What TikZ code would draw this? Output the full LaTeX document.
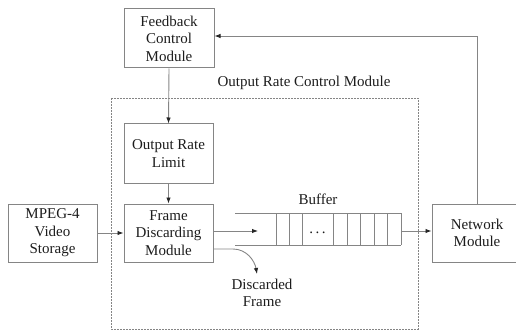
\documentclass[tikz,border=0pt]{standalone}
\usepackage{fontspec}
\setmainfont{Liberation Serif}
\usetikzlibrary{arrows.meta}
\definecolor{linegray}{HTML}{858585}
\definecolor{textgray}{HTML}{1C1C1C}
\begin{document}
\begin{tikzpicture}[x=1pt,y=-1pt,
  font=\fontsize{15}{17.5}\selectfont,
  every node/.style={text=textgray},
  block/.style={draw=linegray, line width=1pt, rectangle, align=center,
    inner sep=0pt, minimum height=58pt},
  conn/.style={draw=linegray, line width=0.9pt,
    -{Latex[length=6pt,width=4.5pt,fill=black!85,color=black!85]}},
  cell/.style={draw=linegray, line width=0.9pt}]
\useasboundingbox (0,0) rectangle (516,331);

% processing blocks
\node[block, minimum width=90pt, minimum height=59pt] (fb) at (169,38.5) {Feedback\\Control\\Module};
\node[block, minimum width=89pt, minimum height=59pt] (orl) at (168.5,153.5) {Output Rate\\Limit};
\node[block, minimum width=89pt] (fdm) at (168.5,233) {Frame\\Discarding\\Module};
\node[block, minimum width=89pt] (mpeg) at (52.5,233) {MPEG-4\\Video\\Storage};
\node[block, minimum width=90pt] (net) at (477,233) {Network\\Module};

% rate control enclosure
\draw[linegray, line width=0.9pt, dash pattern=on 1.6pt off 1.4pt] (111,98) rectangle (418,329);
\node (title) at (304,83) {Output Rate Control Module};

% buffer queue
\draw[cell] (235,213) -- (401,213) (235,245) -- (401,245);
\foreach \cx in {276,289,302,333,347,360,374,387,401}
  \draw[cell] (\cx,213) -- (\cx,245);
\node[anchor=base, inner sep=0pt] (dots) at (317.5,233) {.\hspace{2.5pt}.\hspace{2.5pt}.};
\node (buflabel) at (318,199) {Buffer};
\coordinate (bufin) at (258,231);
\coordinate (bufout) at (401,231);

% discarded output
\node[align=center] (disc) at (262,293) {Discarded\\Frame};

% connectors
\draw[conn] (fb.south) -- (orl.north);
\draw[conn] (orl.south) -- (fdm.north);
\draw[conn] (mpeg.east) -- (fdm.west);
\draw[conn] (fdm.east |- bufin) -- (bufin);
\draw[conn] (bufout) -- (net.west |- bufout);
\draw[conn] (fdm.east |- 0,249) -- (233,249) to[out=0,in=100] (257,274);
\draw[conn] (net.north) |- (fb.east |- 0,36);
\end{tikzpicture}
\end{document}
